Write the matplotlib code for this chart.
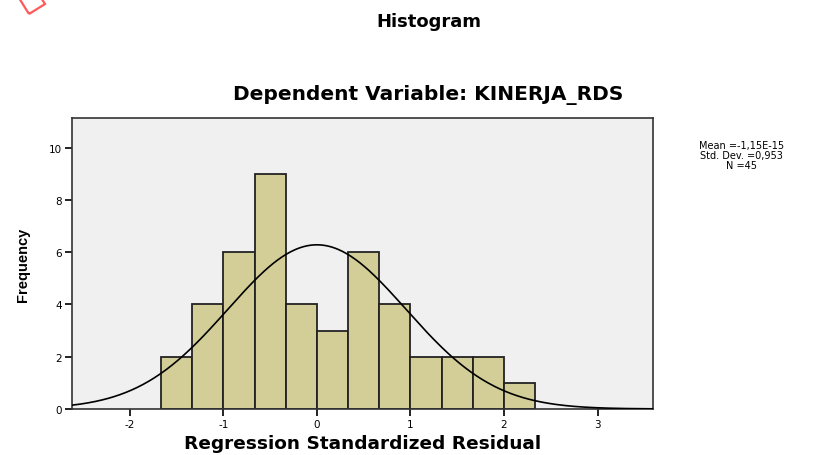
import numpy as np
import matplotlib
matplotlib.use("Agg")
import matplotlib.pyplot as plt
from matplotlib.patches import Polygon

plt.rcParams['font.family'] = ['DejaVu Sans']
plt.rcParams['axes.unicode_minus'] = False

# histogram data
bin_edges = [-5/3, -4/3, -1, -2/3, -1/3, 0, 1/3, 2/3, 1, 4/3, 5/3, 2, 7/3]
counts = [2, 4, 6, 9, 4, 3, 6, 4, 2, 2, 2, 1]
mean_val = -1.15e-15
std_val = 0.953
n_obs = 45
stats_text = "Mean =-1,15E-15\nStd. Dev. =0,953\nN =45"

fig = plt.figure(figsize=(8.16, 4.56), dpi=100)
ax = fig.add_axes([0.088, 0.101, 0.712, 0.638])
ax.set_facecolor('#f0f0f0')

widths = np.diff(bin_edges)
ax.bar(bin_edges[:-1], counts, width=widths, align='edge',
       color='#d3ce97', edgecolor='#222222', linewidth=1.3, zorder=2)

# fitted normal curve (SPSS overlay)
xlim = (-2.62, 3.59)
xs = np.linspace(xlim[0], xlim[1], 400)
bw = widths[0]
ys = n_obs * bw / (std_val * np.sqrt(2 * np.pi)) * np.exp(-0.5 * ((xs - mean_val) / std_val) ** 2)
ax.plot(xs, ys, color='black', linewidth=1.2, zorder=3)

ax.set_xlim(*xlim)
ax.set_ylim(0, 11.13)
ax.set_xticks([-2, -1, 0, 1, 2, 3])
ax.set_yticks([0, 2, 4, 6, 8, 10])
ax.tick_params(axis='both', labelsize=7.5, length=5, width=1.4, color='#222222', pad=2)
for s in ax.spines.values():
    s.set_color('#333333')
    s.set_linewidth(1.2)

ax.set_xlabel('Regression Standardized Residual', fontsize=13.3, fontweight='bold', labelpad=4)
ax.set_ylabel('Frequency', fontsize=10.5, fontweight='bold', labelpad=14,
              family=['Liberation Sans'])

fig.text(0.525, 0.951, 'Histogram', ha='center', va='center', fontsize=13, fontweight='bold')
fig.text(0.525, 0.792, 'Dependent Variable: KINERJA_RDS', ha='center', va='center',
         fontsize=14.5, fontweight='bold')
fig.text(0.909, 0.657, stats_text, ha='center', va='center', fontsize=7, linespacing=1.0)

# red marker in the top-left corner
sq = np.array([(29, 15), (45, 5), (35, -11), (19, -1)], dtype=float)
sq[:, 0] /= 816
sq[:, 1] = (456 - sq[:, 1]) / 456
fig.add_artist(Polygon(sq, closed=True, fill=False, edgecolor='#ff5a5a',
                       linewidth=1.6, transform=fig.transFigure))

fig.savefig('out.png', dpi=100)
